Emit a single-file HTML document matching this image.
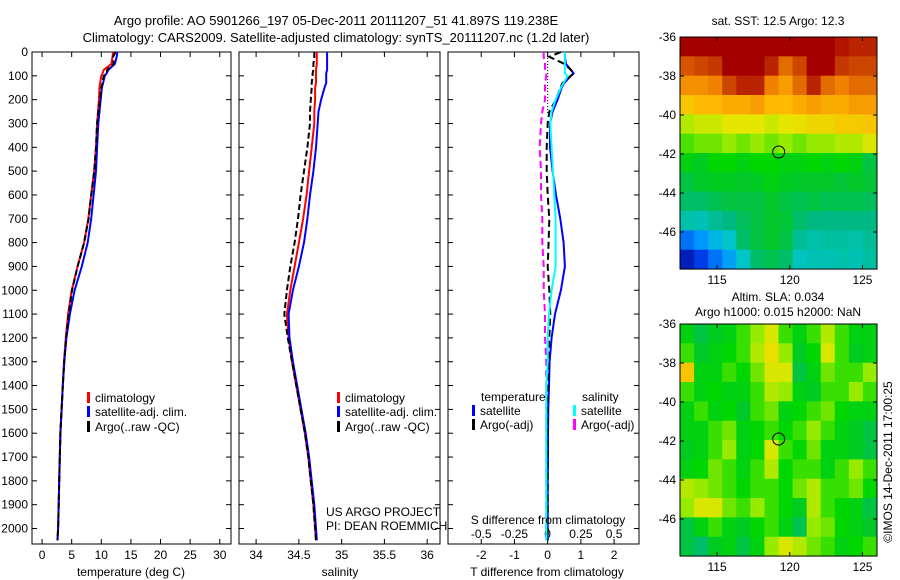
<!DOCTYPE html>
<html><head><meta charset="utf-8">
<style>
html,body{margin:0;padding:0;background:#fff;}
svg{display:block;font-family:"Liberation Sans",sans-serif;}
text{fill:#000;}
</style></head>
<body>
<svg id="fig" width="900" height="580" viewBox="0 0 900 580">
<text x="336" y="25" font-size="13" text-anchor="middle">Argo profile: AO 5901266_197 05-Dec-2011 20111207_51 41.897S 119.238E</text>
<text x="336" y="42" font-size="13" text-anchor="middle">Climatology: CARS2009. Satellite-adjusted climatology: synTS_20111207.nc (1.2d later)</text>
<g id="p1"></g>
<g id="p2"></g>
<g id="p3"></g>
<g id="m1"></g>
<g id="m2"></g>
<text x="778" y="25" font-size="12" text-anchor="middle">sat. SST: 12.5 Argo: 12.3</text>
<text x="778" y="301" font-size="12" text-anchor="middle">Altim. SLA: 0.034</text>
<text x="778" y="316" font-size="12" text-anchor="middle">Argo h1000: 0.015 h2000: NaN</text>
<text x="0" y="0" font-size="12" text-anchor="middle" transform="translate(892,462) rotate(-90)">©IMOS 14-Dec-2011 17:00:25</text>
<text x="326" y="516" font-size="12">US ARGO PROJECT</text>
<text x="326" y="530" font-size="12">PI: DEAN ROEMMICH</text>
</svg>
<script>
const depths=[0,20,50,75,90,100,130,150,200,250,300,400,500,600,700,800,900,1000,1100,1200,1300,1400,1500,1600,1700,1800,1900,2000,2050];
const tClim=[12.0,11.9,11.7,10.4,10.2,10.0,9.8,9.7,9.6,9.45,9.3,9.1,8.8,8.3,7.8,7.1,6.0,5.0,4.4,4.0,3.7,3.5,3.3,3.1,3.0,2.9,2.8,2.7,2.6];
const tSat=[12.7,12.6,12.3,11.2,10.9,10.6,10.3,10.1,9.9,9.7,9.5,9.3,9.1,8.7,8.3,7.7,6.7,5.5,4.7,4.1,3.75,3.5,3.3,3.1,3.0,2.9,2.8,2.7,2.6];
const tArgo=[12.4,12.0,12.1,11.0,10.9,10.4,10.2,10.0,9.8,9.5,9.3,9.1,8.8,8.3,7.85,7.1,6.0,5.05,4.5,4.05,3.73,3.5,3.3,3.1,3.0,2.9,2.8,2.7,2.6];
const sClim=[34.71,34.71,34.71,34.7,34.7,34.7,34.7,34.69,34.69,34.68,34.68,34.65,34.62,34.59,34.55,34.5,34.45,34.4,34.36,34.38,34.42,34.47,34.52,34.57,34.61,34.64,34.67,34.69,34.7];
const sSat=[34.83,34.83,34.83,34.83,34.82,34.82,34.82,34.8,34.76,34.73,34.72,34.7,34.67,34.63,34.6,34.56,34.5,34.43,34.38,34.39,34.43,34.48,34.53,34.58,34.62,34.65,34.68,34.7,34.71];
const sArgo=[34.68,34.68,34.67,34.67,34.66,34.66,34.65,34.65,34.64,34.63,34.63,34.6,34.56,34.52,34.49,34.45,34.4,34.36,34.33,34.37,34.42,34.47,34.52,34.57,34.61,34.64,34.67,34.69,34.7];
const dTSat=[0.52,0.52,0.55,0.7,0.78,0.7,0.5,0.42,0.3,0.15,0.07,0.07,0.15,0.25,0.38,0.48,0.52,0.4,0.22,0.12,0.06,0.04,0.02,0.01,0.01,0.0,0.0,0.0,0.0];
const dTArgo=[0.4,0.05,0.5,0.7,0.8,0.7,0.45,0.38,0.25,0.05,0.0,-0.03,-0.03,0.0,0.05,0.03,0.0,0.05,0.08,0.05,0.03,0.02,0.0,0.0,0.0,0.0,0.0,0.0,0.0];
const dSSat=[0.13,0.13,0.13,0.13,0.13,0.15,0.12,0.1,0.06,0.03,0.02,0.03,0.04,0.05,0.06,0.06,0.06,0.03,0.01,0.0,0.0,-0.01,-0.01,-0.01,-0.01,-0.01,-0.01,-0.01,-0.01];
const dSArgo=[-0.03,-0.03,-0.02,-0.02,-0.01,-0.01,-0.02,-0.02,-0.02,-0.04,-0.05,-0.06,-0.05,-0.05,-0.04,-0.04,-0.03,-0.03,-0.02,-0.02,-0.01,-0.01,-0.01,-0.01,-0.01,-0.01,-0.01,-0.01,-0.01];
const depthTicks=[0,100,200,300,400,500,600,700,800,900,1000,1100,1200,1300,1400,1500,1600,1700,1800,1900,2000];
const tTicks=[0,5,10,15,20,25,30];
const sTicks=[34,34.5,35,35.5,36];
const dTTicks=[-2,-1,0,1,2];
const dSTicks=[-0.5,-0.25,0,0.25,0.5];
const sstGrid=[
[1,1,1,1,1,1,1,1,1,1,1,.97,.95,.95],
[.88,.9,.92,1,1,1,.95,.85,.9,1,1,.92,.9,.9],
[.8,.8,.82,.9,.95,.95,.82,.78,.85,.95,.85,.82,.85,.85],
[.72,.74,.74,.76,.76,.78,.74,.74,.76,.78,.76,.76,.78,.78],
[.62,.64,.64,.66,.66,.66,.64,.66,.67,.69,.69,.71,.71,.72],
[.56,.58,.58,.6,.58,.6,.58,.6,.58,.6,.6,.62,.62,.65],
[.5,.48,.52,.52,.5,.52,.52,.5,.5,.52,.5,.52,.5,.45],
[.45,.47,.48,.48,.47,.48,.5,.48,.47,.47,.47,.46,.47,.46],
[.42,.42,.44,.45,.45,.45,.47,.45,.44,.45,.44,.44,.44,.43],
[.36,.35,.38,.4,.43,.45,.47,.46,.42,.4,.4,.4,.4,.4],
[.18,.22,.28,.33,.42,.45,.47,.45,.38,.36,.37,.37,.36,.38],
[.06,.12,.18,.24,.33,.42,.44,.42,.34,.35,.35,.36,.35,.37]];
const slaGrid=[
[.5,.45,.48,.5,.55,.6,.65,.55,.5,.55,.62,.55,.5,.5],
[.55,.47,.5,.52,.55,.62,.67,.6,.48,.52,.65,.55,.48,.5],
[.72,.5,.5,.55,.52,.58,.65,.65,.45,.5,.58,.55,.55,.6],
[.55,.5,.52,.5,.5,.55,.62,.6,.5,.48,.55,.55,.6,.55],
[.5,.55,.5,.52,.47,.55,.58,.5,.52,.55,.58,.52,.5,.5],
[.5,.5,.55,.58,.5,.52,.55,.52,.55,.6,.55,.5,.48,.45],
[.48,.5,.55,.6,.5,.52,.65,.55,.52,.58,.5,.5,.48,.45],
[.5,.52,.58,.55,.5,.55,.62,.52,.55,.55,.5,.55,.6,.55],
[.62,.6,.58,.55,.52,.55,.55,.52,.58,.62,.55,.55,.58,.52],
[.6,.65,.65,.58,.55,.6,.55,.52,.48,.62,.55,.52,.5,.45],
[.45,.5,.55,.5,.48,.52,.55,.5,.44,.6,.58,.52,.5,.47],
[.45,.42,.48,.5,.45,.5,.6,.65,.62,.58,.55,.5,.52,.55]];
const lonTicks=[115,120,125];
const latTicks=[-36,-38,-40,-42,-44,-46];
const argoLon=119.238, argoLat=-41.897;

const NS='http://www.w3.org/2000/svg';
function mk(tag,attrs,parent){const e=document.createElementNS(NS,tag);for(const k in attrs)e.setAttribute(k,attrs[k]);parent.appendChild(e);return e;}
const TOP=52,BOT=544,DMAX=2065;
const yD=d=>TOP+d/DMAX*(BOT-TOP);

function panel(g,x0,x1,xmin,xmax,showY){
  const xs=v=>x0+(v-xmin)/(xmax-xmin)*(x1-x0);
  const r=mk('rect',{x:x0,y:TOP,width:x1-x0,height:BOT-TOP,fill:'#fff',stroke:'#000','stroke-width':1},g);
  
  depthTicks.forEach(d=>{
    const y=yD(d);
    mk('line',{x1:x0,x2:x0+5,y1:y,y2:y,stroke:'#000'},g);
    mk('line',{x1:x1,x2:x1-5,y1:y,y2:y,stroke:'#000'},g);
    if(showY){const t=mk('text',{x:x0-4,y:y+4,'font-size':12,'text-anchor':'end'},g);t.textContent=d;
      }
  });
  return xs;
}
function ticksX(g,xs,vals,y,fmt){
  vals.forEach(v=>{const x=xs(v);
    mk('line',{x1:x,x2:x,y1:BOT,y2:BOT-5,stroke:'#000'},g);
    mk('line',{x1:x,x2:x,y1:TOP,y2:TOP+5,stroke:'#000'},g);
    const t=mk('text',{x:x,y:y,'font-size':12,'text-anchor':'middle'},g);t.textContent=fmt?fmt(v):v;
    });
}
function line(g,xs,vals,color,dash,name,w){
  const pts=vals.map((v,i)=>xs(v).toFixed(1)+','+yD(depths[i]).toFixed(1)).join(' ');
  const p=mk('polyline',{points:pts,fill:'none',stroke:color,'stroke-width':w||2},g);
  if(dash)p.setAttribute('stroke-dasharray',dash);
  
}
function legendRow(g,x,y,color,label){
  const b=mk('rect',{x:x,y:y-10,width:3,height:11,fill:color},g);
  
  const t=mk('text',{x:x+8,y:y,'font-size':12},g);t.textContent=label;
  
}
function axisTitle(g,x,y,s){const t=mk('text',{x:x,y:y,'font-size':12,'text-anchor':'middle'},g);t.textContent=s;
  }

const g1=document.getElementById('p1');
const x1s=panel(g1,32,231,-1.7,31.9,true);
ticksX(g1,x1s,tTicks,559);
line(g1,x1s,tClim,'#f00',null,'temp-climatology-line');
line(g1,x1s,tSat,'#00f',null,'temp-satellite-line');
line(g1,x1s,tArgo,'#000','6,3','temp-argo-line');
legendRow(g1,87,402,'#f00','climatology');
legendRow(g1,87,416,'#00f','satellite-adj. clim.');
legendRow(g1,87,431,'#000','Argo(..raw -QC)');
axisTitle(g1,131,576,'temperature (deg C)');

const g2=document.getElementById('p2');
const x2s=panel(g2,239,440,33.8,36.15,false);
ticksX(g2,x2s,sTicks,559,v=>String(v));
line(g2,x2s,sClim,'#f00',null,'sal-climatology-line');
line(g2,x2s,sSat,'#00f',null,'sal-satellite-line');
line(g2,x2s,sArgo,'#000','6,3','sal-argo-line');
legendRow(g2,337,402,'#f00','climatology');
legendRow(g2,337,416,'#00f','satellite-adj. clim.');
legendRow(g2,337,431,'#000','Argo(..raw -QC)');
axisTitle(g2,340,576,'salinity');

const g3=document.getElementById('p3');
const x3s=panel(g3,448,639,-3,2.75,false);
const x3S=v=>x3s(v*4);
ticksX(g3,x3s,dTTicks,559);
dSTicks.forEach(v=>{const t=mk('text',{x:x3S(v),y:538,'font-size':12,'text-anchor':'middle'},g3);t.textContent=v;
  });
const zl=mk('line',{x1:x3s(0),x2:x3s(0),y1:TOP,y2:yD(260),stroke:'#000','stroke-dasharray':'1,2'},g3);

line(g3,x3S,dSArgo,'#f0f','7,4','sdiff-argo-line');
line(g3,x3s,dTSat,'#00f',null,'tdiff-satellite-line');
line(g3,x3s,dTArgo,'#000','7,4','tdiff-argo-line');
line(g3,x3S,dSSat,'#0ff',null,'sdiff-satellite-line');
const lt=mk('text',{x:481,y:401,'font-size':12},g3);lt.textContent='temperature';

const ls=mk('text',{x:582,y:401,'font-size':12},g3);ls.textContent='salinity';

legendRow(g3,472,415,'#00f','satellite');
legendRow(g3,472,429,'#000','Argo(-adj)');
legendRow(g3,573,415,'#0ff','satellite');
legendRow(g3,573,429,'#f0f','Argo(-adj)');
axisTitle(g3,548,524,'S difference from climatology');
axisTitle(g3,547,576,'T difference from climatology');

const cStops=[[0,0,0,140],[0.12,0,60,230],[0.22,0,150,255],[0.32,0,200,210],[0.4,0,185,130],[0.47,0,200,40],[0.52,0,215,0],[0.6,150,235,0],[0.66,230,230,0],[0.74,255,185,0],[0.82,240,130,0],[0.9,205,70,0],[1,165,0,0]];
function cmap(v){v=Math.max(0,Math.min(1,v));
  for(let i=1;i<cStops.length;i++){if(v<=cStops[i][0]){const a=cStops[i-1],b=cStops[i],t=(v-a[0])/(b[0]-a[0]);
    return 'rgb('+[1,2,3].map(k=>Math.round(a[k]+(b[k]-a[k])*t)).join(',')+')';}}
  return 'rgb(165,0,0)';}
function map(g,grid,top,name){
  const L=680,R=877,LON0=112.45,LON1=126.0,LAT0=-36,LAT1=-47.9,pxLat=19.5;
  const xl=lo=>L+(lo-LON0)/(LON1-LON0)*(R-L);
  const yl=la=>top+(LAT0-la)*pxLat;
  const rows=grid.length,cols=grid[0].length;
  const dLon=(LON1-LON0)/cols,dLat=(LAT0-LAT1)/rows;
  grid.forEach((row,i)=>row.forEach((v,j)=>{
    const x=xl(LON0+j*dLon),y=yl(LAT0-i*dLat);
    const c=mk('rect',{x:x.toFixed(2),y:y.toFixed(2),width:(xl(LON0+(j+1)*dLon)-x+0.5).toFixed(2),height:(yl(LAT0-(i+1)*dLat)-y+0.5).toFixed(2),fill:cmap(v)},g);
    
  }));
  const f=mk('rect',{x:L,y:top,width:R-L,height:yl(LAT1)-top,fill:'none',stroke:'#000'},g);
  
  latTicks.forEach(la=>{const y=yl(la);
    mk('line',{x1:L,x2:L+4,y1:y,y2:y,stroke:'#000'},g);mk('line',{x1:R,x2:R-4,y1:y,y2:y,stroke:'#000'},g);
    const t=mk('text',{x:L-4,y:y+4,'font-size':12,'text-anchor':'end'},g);t.textContent=la;
    });
  lonTicks.forEach(lo=>{const x=xl(lo);
    mk('line',{x1:x,x2:x,y1:top,y2:top+4,stroke:'#000'},g);mk('line',{x1:x,x2:x,y1:yl(LAT1),y2:yl(LAT1)-4,stroke:'#000'},g);
    const t=mk('text',{x:x,y:yl(LAT1)+15,'font-size':12,'text-anchor':'middle'},g);t.textContent=lo;
    });
  const c=mk('circle',{cx:xl(argoLon),cy:yl(argoLat),r:6,fill:'none',stroke:'#000'},g);
  
}
map(document.getElementById('m1'),sstGrid,37,'sst');
map(document.getElementById('m2'),slaGrid,324,'sla');
</script>
</body></html>
